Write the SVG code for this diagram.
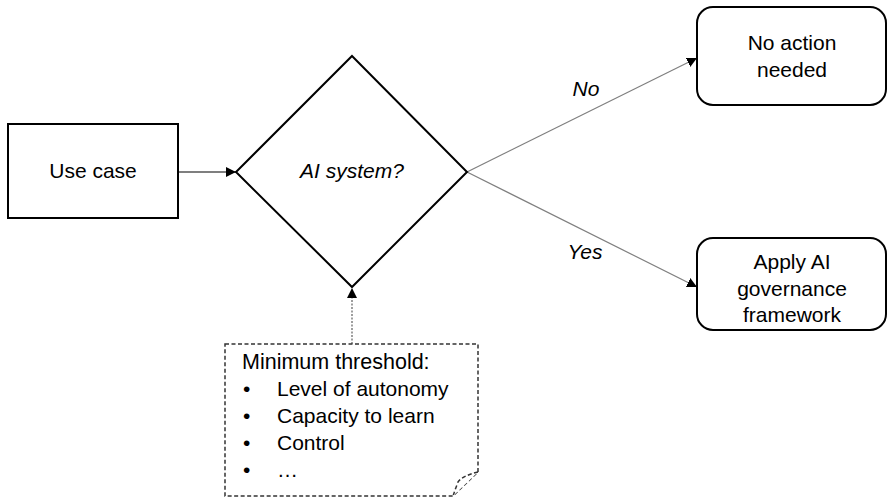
<svg xmlns="http://www.w3.org/2000/svg" width="887" height="498" viewBox="0 0 887 498">
<style>
.shape{fill:#fff;stroke:#000;stroke-width:2}
.t{font-family:"Liberation Sans",Arial,sans-serif;font-size:21px;fill:#000}
.c{text-anchor:middle}
.i{font-style:italic}
.edge{fill:none;stroke:#000;stroke-width:1.2}
.gray{stroke:#7f7f7f}
.dot{stroke:#7f7f7f;stroke-dasharray:2 1.5;stroke-width:1.5}
.note{fill:#fff;stroke:#333;stroke-width:1.5;stroke-dasharray:4 2.5}
</style>
<defs>
<marker id="ah" viewBox="0 0 10 10" refX="10" refY="5" markerWidth="10" markerHeight="10" markerUnits="userSpaceOnUse" orient="auto">
<path d="M0,0 L10,5 L0,10 Z" fill="#000"/>
</marker>
</defs>
<g id="connectors">
<line class="edge" x1="178" y1="172" x2="236" y2="172" marker-end="url(#ah)"/>
<line class="edge gray" x1="467" y1="172" x2="697" y2="58" marker-end="url(#ah)"/>
<line class="edge gray" x1="467" y1="172" x2="697" y2="287" marker-end="url(#ah)"/>
<line class="edge dot" x1="352" y1="344" x2="352" y2="288" marker-end="url(#ah)"/>
<text class="t i c" x="586" y="96">No</text>
<text class="t i c" x="585" y="259">Yes</text>
</g>
<g id="use-case">
<rect class="shape" x="8" y="124" width="170" height="94"/>
<text class="t c" x="93" y="178">Use case</text>
</g>
<g id="ai-system">
<polygon class="shape" points="352,56 467,172 352,287 236,172"/>
<text class="t i c" x="352" y="178">AI system?</text>
</g>
<g id="no-action">
<rect class="shape" x="697" y="7" width="189" height="98" rx="16"/>
<text class="t c" x="792" y="50">No action</text>
<text class="t c" x="792" y="77">needed</text>
</g>
<g id="apply">
<rect class="shape" x="697" y="238" width="189" height="92" rx="16"/>
<text class="t c" x="792" y="269">Apply AI</text>
<text class="t c" x="792" y="296">governance</text>
<text class="t c" x="792" y="322">framework</text>
</g>
<g id="threshold">
<path class="note" d="M225,344 H478 V472 L453,496 H225 Z"/>
<path class="note" d="M478,472 Q462,476 458,482 Q455,490 453,496" fill="none"/>
<text class="t" x="242" y="369" style="font-size:21.5px">Minimum threshold:</text>
<text class="t" x="243" y="396">•</text>
<text class="t" x="277" y="396">Level of autonomy</text>
<text class="t" x="243" y="423">•</text>
<text class="t" x="277" y="423">Capacity to learn</text>
<text class="t" x="243" y="450">•</text>
<text class="t" x="277" y="450">Control</text>
<text class="t" x="243" y="477">•</text>
<text class="t" x="277" y="477">…</text>
</g>
</svg>
